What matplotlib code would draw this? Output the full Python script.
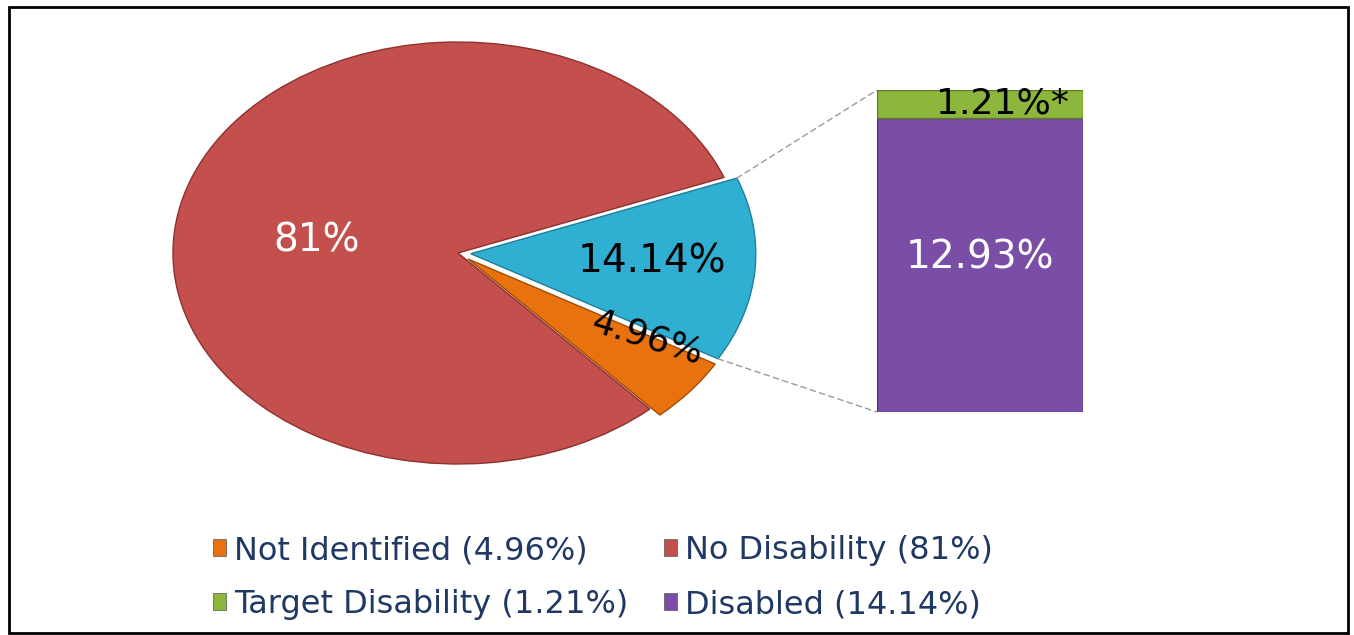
import matplotlib

matplotlib.use("Agg")
import matplotlib.pyplot as plt
import numpy as np
from matplotlib.patches import ConnectionPatch, Patch, Rectangle

# pie: workforce by disability status
pie_labels = ["Disabled", "Not Identified", "No Disability"]
pie_values = [14.14, 4.96, 81.0]
pie_text = ["14.14%", "4.96%", "81%"]

# bar: breakdown of the "Disabled" slice
bar_labels = ["Disabled", "Target Disability"]
bar_values = [12.93, 1.21]
bar_text = ["12.93%", "1.21%*"]

legend_labels = ["Not Identified (4.96%)", "No Disability (81%)",
                 "Target Disability (1.21%)", "Disabled (14.14%)"]

RED, BLUE, ORANGE = "#c4504d", "#2fb0d2", "#e8720e"
PURPLE, GREEN = "#7a4ea6", "#8db63c"
NAVY = "#1f3864"

plt.rcParams["font.family"] = ["DejaVu Sans"]

W, H = 1354, 635
fig = plt.figure(figsize=(W / 100, H / 100), dpi=100)
fig.patch.set_facecolor("white")


def px_rect(x0, y0, x1, y1):
    """Figure-fraction rect from pixel box (y measured from the top)."""
    return [x0 / W, 1 - y1 / H, (x1 - x0) / W, (y1 - y0) / H]


# pie drawn as an ellipse: centre (458, 253), radii 285 x 211 px
cx, cy, rx, ry = 458, 253, 285, 211
ax_pie = fig.add_axes(px_rect(cx - 1.1 * rx, cy - 1.1 * ry, cx + 1.1 * rx, cy + 1.1 * ry))
wedges, _ = ax_pie.pie(
    pie_values, colors=[BLUE, ORANGE, RED], startangle=21, counterclock=False,
    explode=[0.045, 0.045, 0.0],
)
for w, c in zip(wedges, ["#1d7f99", "#a14c06", "#8e302e"]):
    w.set_edgecolor(c)
    w.set_linewidth(1.0)
ax_pie.set_aspect("auto")
ax_pie.set_xlim(-1.1, 1.1)
ax_pie.set_ylim(-1.1, 1.1)
ax_pie.axis("off")

# label placement: radius and angular nudge (deg) relative to each slice's middle
label_r = [0.635, 0.73, 0.5]
label_dang = [1.0, 8.0, 6.3]
label_col = ["black", "black", "white"]
label_size = [28, 26, 28]
label_rot = [0, -17, 0]
for w, txt, r, da, col, fs, rot in zip(wedges, pie_text, label_r, label_dang, label_col,
                                       label_size, label_rot):
    ang = np.deg2rad((w.theta1 + w.theta2) / 2 + da)
    x = w.center[0] + r * np.cos(ang)
    y = w.center[1] + r * np.sin(ang)
    ax_pie.text(x, y, txt, ha="center", va="center", fontsize=fs, color=col, rotation=rot)

# stacked bar for the disabled slice
ax_bar = fig.add_axes(px_rect(877, 90, 1083, 412))
bottom = 0.0
for val, col, ec in zip(bar_values, [PURPLE, GREEN], ["#4b2d6b", "#5b7a22"]):
    ax_bar.bar(0, val, width=1.0, bottom=bottom, color=col, edgecolor=ec, linewidth=1.0)
    bottom += val
ax_bar.set_xlim(-0.5, 0.5)
ax_bar.set_ylim(0, sum(bar_values))
ax_bar.axis("off")
ax_bar.text(0, bar_values[0] / 2 + 0.3, bar_text[0], ha="center", va="center", fontsize=28,
            color="white")
ax_bar.text(0.11, bar_values[0] + bar_values[1] / 2, bar_text[1], ha="center", va="center",
            fontsize=26, color="black")

# dashed leader lines from the blue slice edges to the bar
blue = wedges[0]
for theta, ybar in [(blue.theta2, sum(bar_values)), (blue.theta1, 0.0)]:
    a = np.deg2rad(theta)
    xa = blue.center[0] + blue.r * np.cos(a)
    ya = blue.center[1] + blue.r * np.sin(a)
    con = ConnectionPatch(xyA=(xa, ya), coordsA=ax_pie.transData,
                          xyB=(-0.5, ybar), coordsB=ax_bar.transData,
                          color="#9a9a9a", lw=1.0, linestyle=(0, (4, 3)))
    fig.add_artist(con)

# legend, filled column-first so rows read as in the original
handles = [Patch(facecolor=c, edgecolor="#555555", linewidth=0.5)
           for c in [ORANGE, GREEN, RED, PURPLE]]
order = [0, 2, 1, 3]
fig.legend(handles, [legend_labels[i] for i in order], ncol=2, loc="upper left",
           bbox_to_anchor=(213 / W, 1 - 535 / H), frameon=False, fontsize=23,
           labelcolor=NAVY, handlelength=0.42, handleheight=0.42, handletextpad=0.25,
           columnspacing=1.1, labelspacing=0.72, borderpad=0, borderaxespad=0)

# outer frame
fig.add_artist(Rectangle((9 / W, 1 - 633 / H), (1348 - 9) / W, (633 - 7) / H,
                         transform=fig.transFigure, fill=False, ec="black", lw=2))

fig.savefig("out.png", dpi=100)
